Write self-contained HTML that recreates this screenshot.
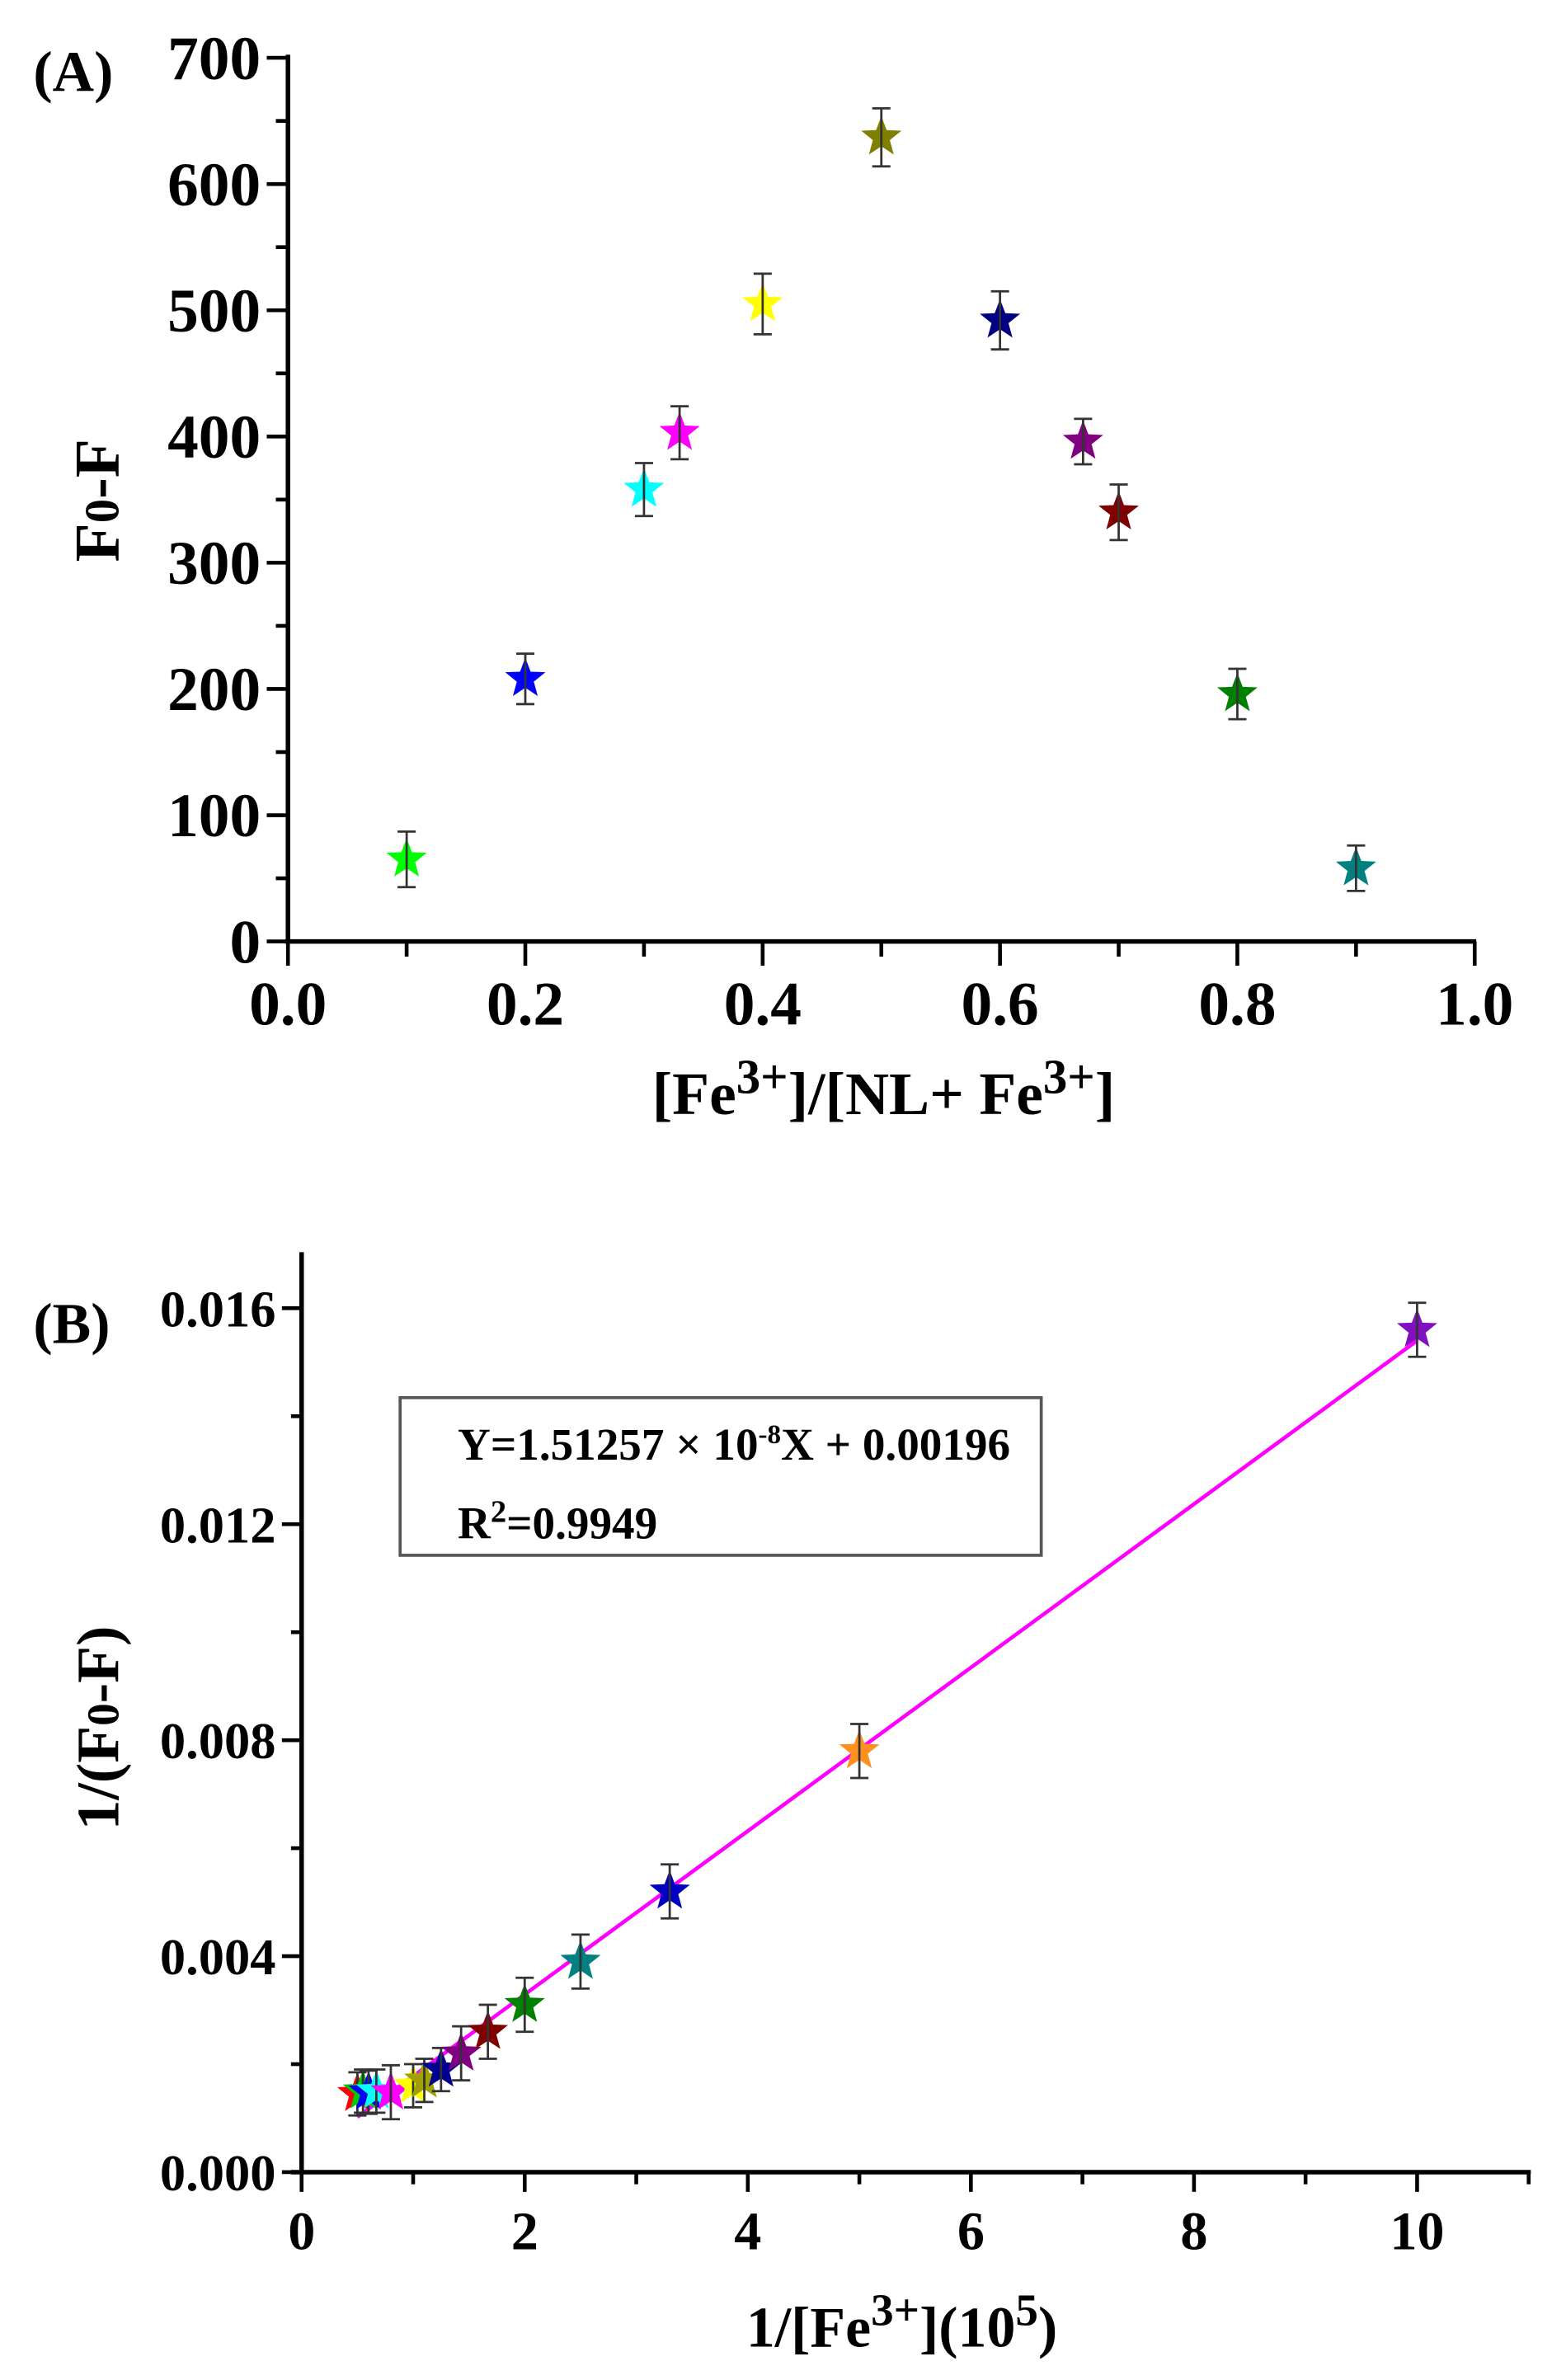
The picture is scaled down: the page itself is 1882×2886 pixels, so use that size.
<!DOCTYPE html>
<html><head><meta charset="utf-8"><style>
html,body{margin:0;padding:0;background:#fff;}
svg{display:block;}
text{font-family:"Liberation Serif",serif;font-weight:bold;fill:#000;}
</style></head><body>
<svg id="fig" width="1882" height="2886" viewBox="0 0 1024 1570" xmlns="http://www.w3.org/2000/svg">
<g id="chartA"></g>
<g id="chartB"></g>
</svg>
<script>
// Chart A data
const aX = [0.1,0.2,0.3,0.33,0.4,0.5,0.6,0.67,0.7,0.8,0.9];
const aY = [65,208,358,403,505,637,492,396,340,196,58];
const aErr = [22,20,21,21,24,23,23,18,22,20,18];
const aColors = ['#00ff00','#0000ff','#00ffff','#ff00ff','#ffff00','#808000','#000080','#800080','#800000','#008000','#008080'];
const aXTicks = ['0.0','0.2','0.4','0.6','0.8','1.0'];
const aYTicks = ['0','100','200','300','400','500','600','700'];
// Chart B data
const bX = [0.5,0.55,0.6,0.67,0.8,1.0,1.1,1.25,1.43,1.67,2,2.5,3.3,5,10];
const bY = [0.00145,0.0015,0.00148,0.0015,0.00148,0.0016,0.0017,0.0019,0.0022,0.0026,0.0031,0.0039,0.0052,0.0078,0.0156];
const bErr = [0.0004,0.0004,0.0004,0.0004,0.0005,0.0004,0.0004,0.0004,0.0005,0.0005,0.0005,0.0005,0.0005,0.0005,0.0005];
const bColors = ['#ff0000','#00cc00','#0000ff','#00ffff','#ff00ff','#ffff00','#a0a000','#000090','#800080','#800000','#008000','#008080','#0000c0','#ff9020','#8010c0'];
const bXTicks = ['0','2','4','6','8','10'];
const bYTicks = ['0.000','0.004','0.008','0.012','0.016'];
const fitX = [0.5,10];
const fitY = [0.00102,0.0154];

const NS='http://www.w3.org/2000/svg';
function mk(tag,attrs,parent,txt){const e=document.createElementNS(NS,tag);for(const k in attrs)e.setAttribute(k,attrs[k]);if(txt!==undefined)e.textContent=txt;parent.appendChild(e);return e;}
function star(cx,cy,r){let p=[];for(let i=0;i<10;i++){const rr=i%2?r*0.42:r;const a=-Math.PI/2+i*Math.PI/5;p.push((cx+rr*Math.cos(a)).toFixed(1)+','+(cy+rr*Math.sin(a)).toFixed(1));}return p.join(' ');}

// ---- Chart A ----
(function(){
const g=document.getElementById('chartA');
const X=v=>190+v*(973-190), Y=v=>621-v*(621-38)/700;
const ax=mk('g',{},g);
mk('line',{x1:188,y1:621,x2:974,y2:621,stroke:'#000','stroke-width':3},ax);
for(let i=0;i<=10;i++){const v=i/10;mk('line',{x1:X(v),y1:621,x2:X(v),y2:i%2?631:637,stroke:'#000','stroke-width':2.5},ax);}
aXTicks.forEach(t=>{const e=mk('text',{x:X(+t),y:676,'font-size':41,'text-anchor':'middle'},ax,t);});
const ay=mk('g',{},g);
mk('line',{x1:190,y1:36,x2:190,y2:622,stroke:'#000','stroke-width':3},ay);
for(let v=0;v<=700;v+=50){mk('line',{x1:190,y1:Y(v),x2:v%100?182:176,y2:Y(v),stroke:'#000','stroke-width':2.5},ay);}
aYTicks.forEach(t=>{const e=mk('text',{x:172,y:Y(+t)+14,'font-size':41,'text-anchor':'end'},ay,t);});
const yt=mk('text',{x:0,y:0,'font-size':42,'text-anchor':'middle',transform:'translate(78,330) rotate(-90)'},g);

mk('tspan',{},yt,'F');mk('tspan',{'font-size':32},yt,'0');mk('tspan',{},yt,'-F');
const xt=mk('text',{x:583,y:735,'font-size':40,'text-anchor':'middle'},g);

mk('tspan',{},xt,'[Fe');mk('tspan',{dy:-14,'font-size':32},xt,'3+');mk('tspan',{dy:14},xt,']/[NL+ Fe');mk('tspan',{dy:-14,'font-size':32},xt,'3+');mk('tspan',{dy:14},xt,']');
const pl=mk('text',{x:22,y:60,'font-size':38},g,'(A)');
aX.forEach((v,i)=>{const pg=mk('g',{},g);
const cx=X(v),cy=Y(aY[i]),t=Y(aY[i]+aErr[i]),b=Y(aY[i]-aErr[i]);
mk('polygon',{points:star(cx,cy,14),fill:aColors[i]},pg);
mk('line',{x1:cx,y1:t,x2:cx,y2:b,stroke:'#333','stroke-width':1.5},pg);
mk('line',{x1:cx-6,y1:t,x2:cx+6,y2:t,stroke:'#333','stroke-width':1.5},pg);
mk('line',{x1:cx-6,y1:b,x2:cx+6,y2:b,stroke:'#333','stroke-width':1.5},pg);});
})();

// ---- Chart B ----
(function(){
const g=document.getElementById('chartB');
const X=v=>199+v*(935-199)/10, Y=v=>1433-v*(1433-863)/0.016;
const ax=mk('g',{},g);
mk('line',{x1:192,y1:1433,x2:1010,y2:1433,stroke:'#000','stroke-width':3},ax);
for(let i=0;i<=11;i++){mk('line',{x1:X(i),y1:1433,x2:X(i),y2:i%2?1441:1446,stroke:'#000','stroke-width':2.5},ax);}
bXTicks.forEach(t=>{const e=mk('text',{x:X(+t),y:1484,'font-size':36,'text-anchor':'middle'},ax,t);});
const ay=mk('g',{},g);
mk('line',{x1:199,y1:826,x2:199,y2:1434,stroke:'#000','stroke-width':3},ay);
for(let k=0;k<=8;k++){const v=k*0.002;mk('line',{x1:199,y1:Y(v),x2:k%2?192:186,y2:Y(v),stroke:'#000','stroke-width':2.5},ay);}
bYTicks.forEach(t=>{const e=mk('text',{x:182,y:Y(+t)+12,'font-size':34,'text-anchor':'end'},ay,t);});
const yt=mk('text',{x:0,y:0,'font-size':40,'text-anchor':'middle',transform:'translate(78,1140) rotate(-90)'},g);

mk('tspan',{},yt,'1/(F');mk('tspan',{'font-size':30},yt,'0');mk('tspan',{},yt,'-F)');
const xt=mk('text',{x:595,y:1548,'font-size':38,'text-anchor':'middle'},g);

mk('tspan',{},xt,'1/[Fe');mk('tspan',{dy:-14,'font-size':30},xt,'3+');mk('tspan',{dy:14},xt,'](10');mk('tspan',{dy:-14,'font-size':30},xt,'5');mk('tspan',{dy:14},xt,')');
const pl=mk('text',{x:22,y:886,'font-size':38},g,'(B)');
const lg=mk('g',{},g);
mk('rect',{x:264,y:922,width:423,height:104,fill:'#fff',stroke:'#555','stroke-width':2},lg);
const t1=mk('text',{x:302,y:963,'font-size':30},lg);
mk('tspan',{},t1,'Y=1.51257 ×  10');mk('tspan',{dy:-11,'font-size':18},t1,'-8');mk('tspan',{dy:11},t1,'X + 0.00196');
const t2=mk('text',{x:302,y:1015,'font-size':30},lg);
mk('tspan',{},t2,'R');mk('tspan',{dy:-11,'font-size':21},t2,'2');mk('tspan',{dy:11},t2,'=0.9949');
const fl=mk('line',{x1:X(fitX[0]),y1:Y(fitY[0]),x2:X(fitX[1]),y2:Y(fitY[1]),stroke:'#ff00ff','stroke-width':2.5},g);

bX.forEach((v,i)=>{const pg=mk('g',{},g);
const cx=X(v),cy=Y(bY[i]),t=Y(bY[i]+bErr[i]),b=Y(bY[i]-bErr[i]);
mk('polygon',{points:star(cx,cy,14),fill:bColors[i]},pg);
mk('line',{x1:cx,y1:t,x2:cx,y2:b,stroke:'#333','stroke-width':1.5},pg);
mk('line',{x1:cx-6,y1:t,x2:cx+6,y2:t,stroke:'#333','stroke-width':1.5},pg);
mk('line',{x1:cx-6,y1:b,x2:cx+6,y2:b,stroke:'#333','stroke-width':1.5},pg);});
})();
</script>
</body></html>
